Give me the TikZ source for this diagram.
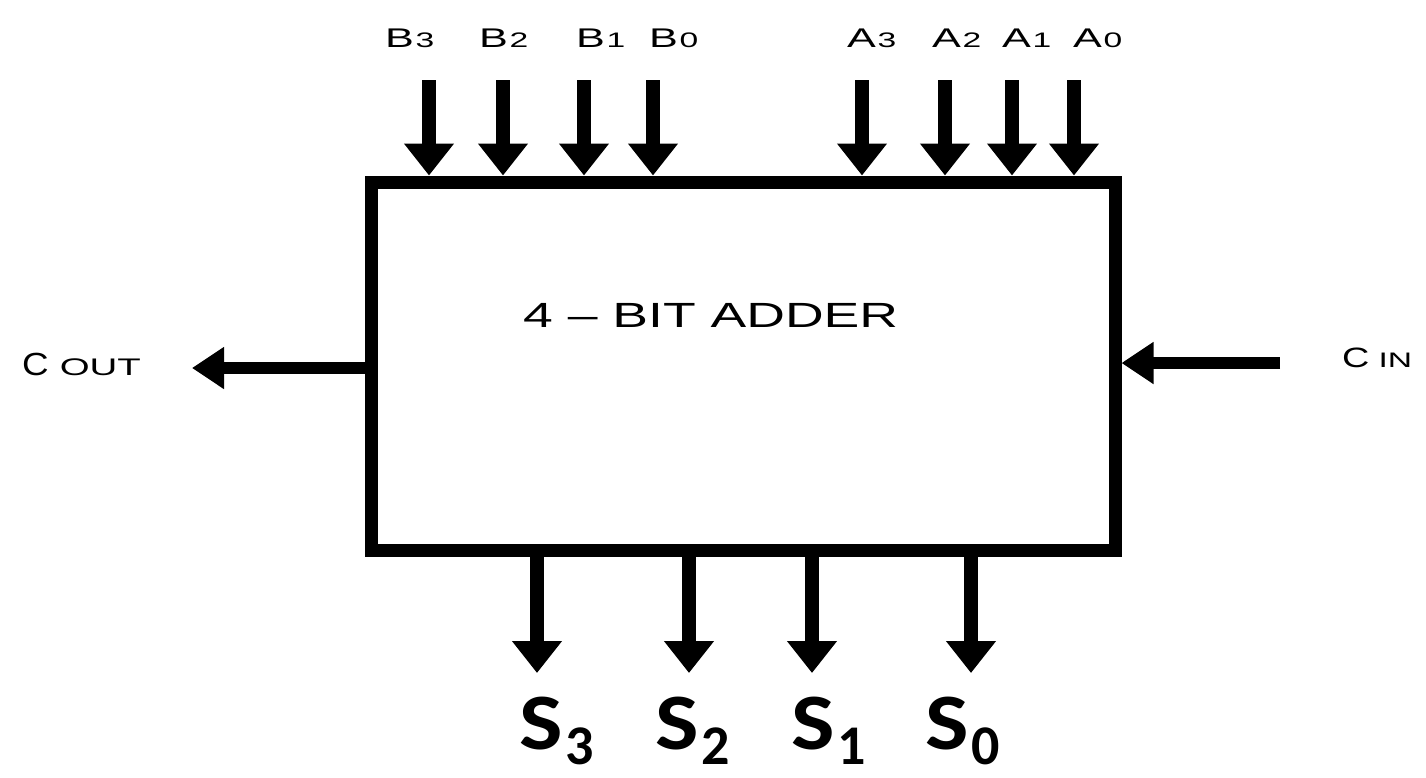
\documentclass[tikz,border=0pt]{standalone}
\usepackage{graphicx}
\usepackage{fontspec}
\setmainfont{Liberation Sans}
\newfontfamily\calib{Carlito}
\usetikzlibrary{arrows.meta}
\tikzset{
  sig/.style={line width=14pt,-{Triangle[width=48pt,length=32pt]}},
  hsig/.style={line width=12pt,-{Triangle[width=40pt,length=32pt]}},
  toplbl/.style={inner sep=0pt,anchor=base west},
  slbl/.style={inner sep=0pt,anchor=base west},
  boxst/.style={draw,line width=13pt,minimum width=744pt,minimum height=368pt,inner sep=0pt}
}
\newcommand{\toplab}[2]{\scalebox{1.6}[1]{\fontsize{27}{27}\selectfont #1\hspace{1pt}\fontsize{21}{21}\selectfont #2}}
\newcommand{\sumlab}[1]{\calib\bfseries\scalebox{1.15}[1]{\fontsize{80}{80}\selectfont S}\hspace{3pt}\raisebox{-15pt}{\fontsize{56}{56}\selectfont #1}}
\begin{document}
\begin{tikzpicture}[x=1pt,y=-1pt]
\useasboundingbox (0,0) rectangle (1426,777);
\node[boxst] (adder) at (743,366) {};
\node[inner sep=0pt,anchor=base west] (title) at (523,327) {\scalebox{1.53}[1]{\fontsize{35}{35}\selectfont 4 -- BIT ADDER}};
% top labels
\node[toplbl] (b3) at (385,47) {\toplab{B}{3}};
\node[toplbl] (b2) at (479,47) {\toplab{B}{2}};
\node[toplbl] (b1) at (576,47) {\toplab{B}{1}};
\node[toplbl] (b0) at (649,47) {\toplab{B}{0}};
\node[toplbl] (a3) at (847,47) {\toplab{A}{3}};
\node[toplbl] (a2) at (932,47) {\toplab{A}{2}};
\node[toplbl] (a1) at (1002,47) {\toplab{A}{1}};
\node[toplbl] (a0) at (1073,47) {\toplab{A}{0}};
% top inputs
\foreach \n/\x in {b3/429,b2/503,b1/584,b0/653,a3/862,a2/945,a1/1012,a0/1074}{
  \coordinate (s\n) at (\x,80);
  \draw[sig] (s\n) -- (s\n |- adder.north);
}
% carry out
\node[inner sep=0pt,anchor=base west] (cout) at (22,375) {\scalebox{1.15}[1]{\fontsize{32}{32}\selectfont C}\hspace{11pt}\scalebox{1.6}[1]{\fontsize{24}{24}\selectfont OUT}};
\coordinate (coutend) at (192,368);
\draw[hsig] (adder.west |- coutend) -- (coutend);
% carry in
\node[inner sep=0pt,anchor=base west] (cin) at (1342,367) {\scalebox{1.35}[1]{\fontsize{28}{28}\selectfont C}\hspace{9pt}\scalebox{1.6}[1]{\fontsize{21}{21}\selectfont IN}};
\coordinate (cinstart) at (1280,363);
\draw[hsig] (cinstart) -- (adder.east |- cinstart);
% sum outputs
\foreach \n/\x in {3/537,2/689,1/812,0/971}{
  \coordinate (t\n) at (\x,673);
  \draw[sig] (adder.south -| t\n) -- (t\n);
}
\node[slbl] (s3) at (519,749) {\sumlab{3}};
\node[slbl] (s2) at (655,749) {\sumlab{2}};
\node[slbl] (s1) at (791,749) {\sumlab{1}};
\node[slbl] (s0) at (925,749) {\sumlab{0}};
\end{tikzpicture}
\end{document}
